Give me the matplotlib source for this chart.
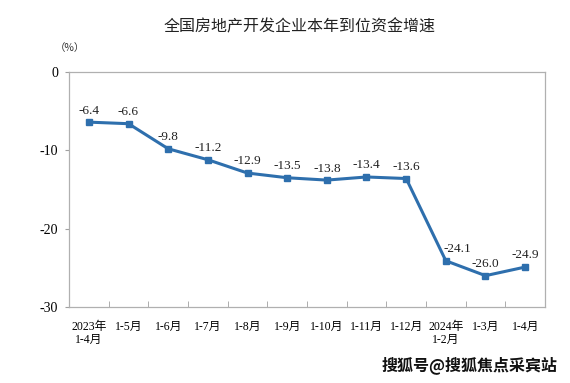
import matplotlib
matplotlib.use("Agg")
import matplotlib.pyplot as plt
import numpy as np

categories = ["2023年\n1-4月", "1-5月", "1-6月", "1-7月", "1-8月", "1-9月", "1-10月",
              "1-11月", "1-12月", "2024年\n1-2月", "1-3月", "1-4月"]
values = [-6.4, -6.6, -9.8, -11.2, -12.9, -13.5, -13.8, -13.4, -13.6, -24.1, -26.0, -24.9]
yticks = [0, -10, -20, -30]

serif = ["Liberation Serif", "Noto Sans CJK SC"]
cjk = ["Noto Sans CJK SC", "DejaVu Sans"]

fig = plt.figure(figsize=(5.7, 3.83), dpi=100)
ax = fig.add_axes([69/570, 1-307/383, (545-69)/570, (307-72)/383])

x = np.arange(len(categories))
ax.plot(x, values, color="#2e6fad", lw=2.2, marker="s", ms=4.5, zorder=3)
label_dx = {9: 8}
for i, (xi, v) in enumerate(zip(x, values)):
    ax.annotate(f"{v:.1f}", (xi, v), xytext=(label_dx.get(i, 0), 4), textcoords="offset points",
                ha="center", va="bottom", fontsize=9.5, family=serif, color="#222222")

ax.set_xlim(-0.5, len(categories) - 0.5)
ax.set_ylim(-30, 0)
ax.set_yticks(yticks)
ax.set_yticklabels([str(t) for t in yticks], family=serif, fontsize=10)
ax.set_xticks(x)
ax.set_xticklabels(categories, family=serif, fontsize=8.5, linespacing=1.15, va="top")
ax.tick_params(axis="x", which="major", length=0, pad=10)
ax.set_xticks(np.arange(0.5, len(categories) - 1, 1), minor=True)
ax.tick_params(axis="x", which="minor", direction="in", length=4, color="#a0a0a0")
ax.tick_params(axis="y", direction="out", length=3, color="#a0a0a0", pad=5)
for s in ax.spines.values():
    s.set_color("#b0b0b0")
    s.set_linewidth(0.9)

fig.text(300/570, 1-27/383, "全国房地产开发企业本年到位资金增速", ha="center", va="center",
         fontsize=11.5, family=cjk, color="#222222")
fig.text(70/570, 1-48/383, "（%）", ha="center", va="center", fontsize=7.5, family=cjk, color="#333333")
fig.text(470/570, 1-365/383, "搜狐号@搜狐焦点采宾站", ha="center", va="center", fontsize=11.5,
         family=cjk, fontweight="bold", color="#111111")

fig.savefig("out.png", dpi=100)
